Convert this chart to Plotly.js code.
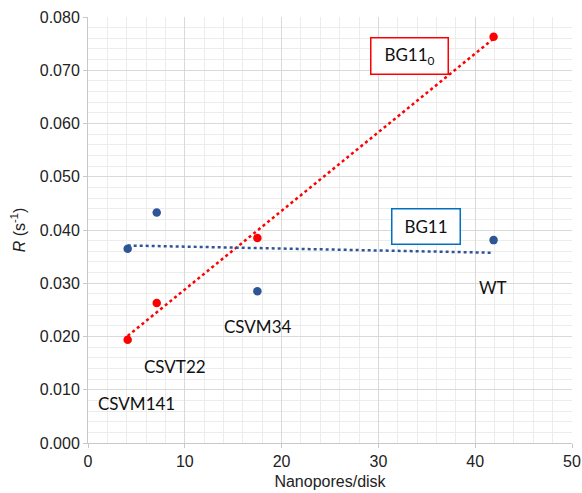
<!DOCTYPE html>
<html><head><meta charset="utf-8">
<script src="https://cdn.plot.ly/plotly-3.0.1.min.js"></script>
<style>html,body{margin:0;padding:0;background:#fff}#chart{width:582px;height:493px}</style>
</head><body><div id="chart"></div>
<script>
const nanopores = [4.1, 7.1, 17.5, 41.9];
const strains = ["CSVM141", "CSVT22", "CSVM34", "WT"];
const rBG11_0 = [0.0194, 0.0263, 0.0385, 0.0763];
const rBG11 = [0.0365, 0.0433, 0.0285, 0.0381];

function linfit(x, y) {
  const n = x.length;
  const mx = x.reduce((a, b) => a + b, 0) / n;
  const my = y.reduce((a, b) => a + b, 0) / n;
  let sxy = 0, sxx = 0;
  for (let i = 0; i < n; i++) { sxy += (x[i] - mx) * (y[i] - my); sxx += (x[i] - mx) ** 2; }
  const b = sxy / sxx, a = my - b * mx;
  const xs = [Math.min(...x), Math.max(...x)];
  return { x: xs, y: xs.map(v => a + b * v) };
}
const fitRed = linfit(nanopores, rBG11_0);
const fitBlue = linfit(nanopores, rBG11);

const RED = "#FF0000", BLUE = "#2F5597";
const traces = [
  { x: fitRed.x, y: fitRed.y, mode: "lines", line: { color: RED, dash: "dot", width: 2.5 }, hoverinfo: "skip" },
  { x: fitBlue.x, y: fitBlue.y, mode: "lines", line: { color: BLUE, dash: "dot", width: 2.5 }, hoverinfo: "skip" },
  { x: nanopores, y: rBG11, mode: "markers", marker: { color: BLUE, size: 8.5 } },
  { x: nanopores, y: rBG11_0, mode: "markers", marker: { color: RED, size: 8.5 } }
];

const labelFont = { family: "Lato, 'Open Sans', sans-serif", size: 17, color: "#111" };
// label offsets in pixels relative to the data points
const labelPos = [
  { i: 0, ref: rBG11_0, dx: 9, dy: -64 },
  { i: 1, ref: rBG11_0, dx: 18, dy: -64 },
  { i: 2, ref: rBG11, dx: 1, dy: -35 },
  { i: 3, ref: rBG11, dx: -1, dy: -47 }
];
const annotations = labelPos.map(p => ({
  x: nanopores[p.i], y: p.ref[p.i], xref: "x", yref: "y",
  text: strains[p.i], showarrow: false, xshift: p.dx, yshift: p.dy,
  font: labelFont
}));
annotations.push({
  x: 33.2, y: 0.0726, xref: "x", yref: "y", text: "BG11<sub>0</sub>", showarrow: false,
  font: labelFont, bordercolor: RED, borderwidth: 1.5, borderpad: 4, bgcolor: "#fff",
  width: 68, height: 27
});
annotations.push({
  x: 34.9, y: 0.04075, xref: "x", yref: "y", text: "BG11", showarrow: false,
  font: labelFont, bordercolor: "#0070C0", borderwidth: 1.5, borderpad: 4, bgcolor: "#fff",
  width: 59, height: 26
});

const layout = {
  width: 582, height: 493,
  margin: { l: 88, r: 10, t: 17, b: 50 },
  paper_bgcolor: "#fff", plot_bgcolor: "#fff",
  showlegend: false,
  font: { family: "'Liberation Sans', Arial, sans-serif", size: 16, color: "#222" },
  xaxis: {
    range: [0, 50], dtick: 10, tick0: 0, automargin: false,
    showgrid: true, gridcolor: "#d9d9d9", gridwidth: 1,
    minor: { dtick: 2, showgrid: true, gridcolor: "#ececec", gridwidth: 1 },
    showline: true, linecolor: "#c8c8c8", linewidth: 1, mirror: false,
    ticks: "outside", ticklen: 4, tickcolor: "#c8c8c8",
    zeroline: false,
    title: { text: "Nanopores/disk", font: { size: 16 }, standoff: 6 }
  },
  yaxis: {
    range: [0, 0.08], dtick: 0.01, tick0: 0, tickformat: ".3f", automargin: false,
    showgrid: true, gridcolor: "#d9d9d9", gridwidth: 1,
    minor: { dtick: 0.002, showgrid: true, gridcolor: "#ececec", gridwidth: 1 },
    showline: true, linecolor: "#c8c8c8", linewidth: 1,
    ticks: "outside", ticklen: 4, tickcolor: "#c8c8c8",
    zeroline: false,
    title: { text: "<i>R</i> (s<sup>-1</sup>)", font: { size: 16 }, standoff: 10 }
  },
  annotations: annotations
};

Plotly.newPlot("chart", traces, layout, { staticPlot: true, displayModeBar: false });
</script></body></html>
